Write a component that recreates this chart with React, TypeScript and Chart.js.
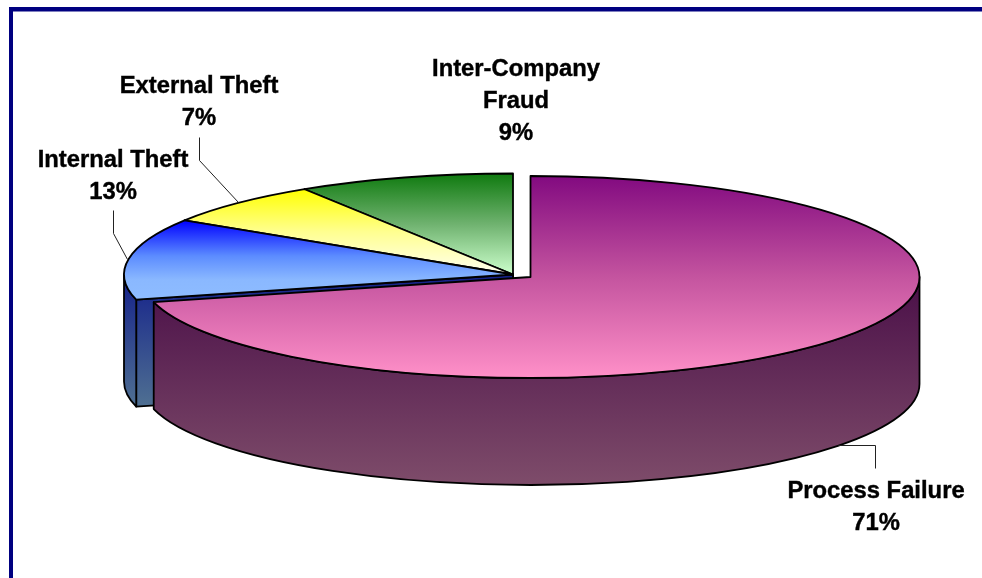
import React, { useEffect, useRef } from "react";
import { Chart, registerables } from "chart.js";

Chart.register(...registerables);

// ---- data ----
const categories = ["Process Failure", "Internal Theft", "External Theft", "Inter-Company Fraud"];
const shares = [71, 13, 7, 9];
const labelLines = [["Process Failure"], ["Internal Theft"], ["External Theft"], ["Inter-Company", "Fraud"]];

// ---- styles and layout ----
const topStops: [number, string][][] = [
  [[0, "#820a80"], [0.5, "#c4549f"], [1, "#ff90c8"]],
  [[0, "#0000ff"], [0.45, "#5c8cff"], [0.75, "#8ab8ff"], [1, "#8ebcff"]],
  [[0, "#ffff00"], [0.5, "#ffff90"], [1, "#fffff0"]],
  [[0, "#0f7a0f"], [0.5, "#6fb26f"], [1, "#ccffcc"]],
];
const wallColors = [
  ["#4a0f48", "#7e4c6a"],
  ["#14208a", "#4f7092"],
  ["#8a8a00", "#c0c080"],
  ["#0a500a", "#70a070"],
];
const WIDTH = 982;
const HEIGHT = 578;
const CENTER_X = 513;
const CENTER_Y = 274.5;
const RADIUS_X = 389;
const RADIUS_Y = 101;
const DEPTH = 107;
const explodeX = [17.5, 0, 0, 0];
const explodeY = [2.5, 0, 0, 0];
const labelCenterX = [876, 113, 199, 516];
const labelFirstBaseline = [498, 167, 93, 76];
const LINE_GAP = 32;
const leaderLines: [number, number][][] = [
  [[875, 468], [875, 445], [838, 445]],
  [[113, 210], [113, 233], [127, 259]],
  [[199, 137], [199, 160], [238, 202]],
];
const FONT = 'bold 23.8px "Liberation Sans", Arial, sans-serif';

function sliceRange(i: number): [number, number] {
  const total = shares.reduce((a, b) => a + b, 0);
  const before = shares.slice(0, i).reduce((a, b) => a + b, 0);
  const a0 = -Math.PI / 2 + (before / total) * Math.PI * 2;
  return [a0, a0 + (shares[i] / total) * Math.PI * 2];
}

function sliceGradient(ctx: CanvasRenderingContext2D, i: number, cy: number, r: number) {
  const [a0, a1] = sliceRange(i);
  let lo = 0;
  let hi = 0;
  const samples = [a0, a1];
  for (let k = -1; k < 4; k += 2) {
    const a = (k * Math.PI) / 2;
    if (a > a0 && a < a1) samples.push(a);
  }
  for (const a of samples) {
    lo = Math.min(lo, Math.sin(a));
    hi = Math.max(hi, Math.sin(a));
  }
  const g = ctx.createLinearGradient(0, cy + lo * r, 0, cy + hi * r);
  for (const [o, c] of topStops[i]) g.addColorStop(o, c);
  return g;
}

const pie3d = {
  id: "pie3d",
  beforeDraw(chart: any) {
    const ctx = chart.ctx;
    ctx.save();
    ctx.fillStyle = "#ffffff";
    ctx.fillRect(0, 0, WIDTH, HEIGHT);
    ctx.fillStyle = "#000080";
    ctx.fillRect(9, 7, WIDTH - 9, 4.5);
    ctx.fillRect(9, 7, 4, HEIGHT - 7);
    ctx.restore();
  },
  beforeDatasetDraw(chart: any, args: any) {
    const ctx: CanvasRenderingContext2D = chart.ctx;
    const arcs = args.meta.data;
    ctx.save();
    ctx.lineJoin = "round";
    ctx.lineWidth = 1.8;
    ctx.strokeStyle = "#000000";

    // sides, painted back to front
    for (let i = arcs.length - 1; i >= 0; i--) {
      const el = arcs[i];
      const cx = CENTER_X + explodeX[i];
      const cy = CENTER_Y + explodeY[i];
      const a0 = el.startAngle;
      const a1 = el.endAngle;
      const w0 = Math.max(a0, 0);
      const w1 = Math.min(a1, Math.PI);
      const reach =
        w0 <= Math.PI / 2 && w1 >= Math.PI / 2
          ? 1
          : w1 > w0
            ? Math.max(Math.sin(w0), Math.sin(w1))
            : 0;
      const grad = ctx.createLinearGradient(0, cy, 0, cy + RADIUS_Y * reach + DEPTH);
      grad.addColorStop(0, wallColors[i][0]);
      grad.addColorStop(1, wallColors[i][1]);
      ctx.fillStyle = grad;

      if (Math.cos(a0) < 0) {
        const px = cx + RADIUS_X * Math.cos(a0);
        const py = cy + RADIUS_Y * Math.sin(a0);
        ctx.beginPath();
        ctx.moveTo(cx, cy);
        ctx.lineTo(px, py);
        ctx.lineTo(px, py + DEPTH);
        ctx.lineTo(cx, cy + DEPTH);
        ctx.closePath();
        ctx.fill();
        ctx.stroke();
      }

      if (w1 > w0) {
        ctx.beginPath();
        ctx.ellipse(cx, cy, RADIUS_X, RADIUS_Y, 0, w0, w1);
        ctx.lineTo(cx + RADIUS_X * Math.cos(w1), cy + DEPTH + RADIUS_Y * Math.sin(w1));
        ctx.ellipse(cx, cy + DEPTH, RADIUS_X, RADIUS_Y, 0, w1, w0, true);
        ctx.closePath();
        ctx.fill();
        ctx.stroke();
      }
    }

    // tops, drawn by the library's arc elements
    for (let i = arcs.length - 1; i >= 0; i--) {
      const el = arcs[i];
      const cx = CENTER_X + explodeX[i];
      const cy = CENTER_Y + explodeY[i];
      const sx = RADIUS_X / el.outerRadius;
      const sy = RADIUS_Y / el.outerRadius;
      ctx.save();
      ctx.translate(cx, cy);
      ctx.scale(sx, sy);
      ctx.translate(-el.x, -el.y);
      el.draw(ctx);
      ctx.restore();

      ctx.beginPath();
      ctx.moveTo(cx, cy);
      ctx.ellipse(cx, cy, RADIUS_X, RADIUS_Y, 0, el.startAngle, el.endAngle);
      ctx.closePath();
      ctx.stroke();
    }
    ctx.restore();
    return false;
  },
  afterDatasetsDraw(chart: any) {
    const ctx: CanvasRenderingContext2D = chart.ctx;
    ctx.save();
    ctx.strokeStyle = "#222222";
    ctx.lineWidth = 1;
    for (const line of leaderLines) {
      ctx.beginPath();
      line.forEach(([x, y], k) => (k ? ctx.lineTo(x + 0.5, y + 0.5) : ctx.moveTo(x + 0.5, y + 0.5)));
      ctx.stroke();
    }
    ctx.fillStyle = "#000000";
    ctx.strokeStyle = "#000000";
    ctx.lineWidth = 0.4;
    ctx.font = FONT;
    ctx.textAlign = "center";
    ctx.textBaseline = "alphabetic";
    labelLines.forEach((lines, i) => {
      const all = [...lines, `${shares[i]}%`];
      all.forEach((t, k) => {
        ctx.fillText(t, labelCenterX[i], labelFirstBaseline[i] + k * LINE_GAP);
        ctx.strokeText(t, labelCenterX[i], labelFirstBaseline[i] + k * LINE_GAP);
      });
    });
    ctx.restore();
  },
};

export default function App() {
  const ref = useRef<HTMLCanvasElement>(null);
  useEffect(() => {
    if (!ref.current) return;
    const chart = new Chart(ref.current, {
      type: "pie",
      data: {
        labels: categories,
        datasets: [
          {
            data: shares,
            borderWidth: 0,
            backgroundColor: (c: any) =>
              sliceGradient(c.chart.ctx, c.dataIndex, HEIGHT / 2, HEIGHT / 2),
          },
        ],
      },
      options: {
        responsive: false,
        animation: false,
        layout: { padding: 0 },
        plugins: { legend: { display: false }, tooltip: { enabled: false } },
      },
      plugins: [pie3d],
    } as any);
    return () => chart.destroy();
  }, []);
  return (
    <canvas
      ref={ref}
      width={WIDTH}
      height={HEIGHT}
      style={{ position: "fixed", left: 0, top: 0, display: "block" }}
    />
  );
}
